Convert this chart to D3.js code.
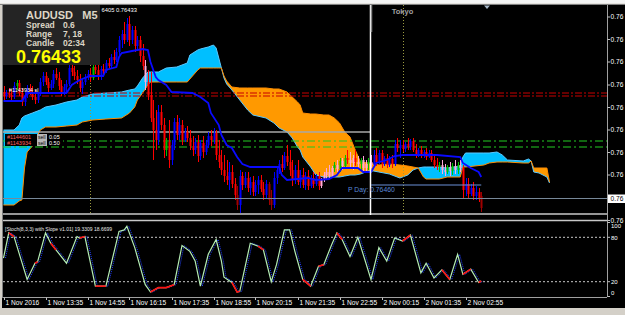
<!DOCTYPE html>
<html><head><meta charset="utf-8">
<script src="https://d3js.org/d3.v7.min.js"></script>
<style>html,body{margin:0;padding:0;background:#d4d0c8;overflow:hidden}svg{display:block;font-family:"Liberation Sans",Arial,sans-serif}</style>
</head><body>
<svg id="chart" width="625" height="315"></svg>
<script>
// ---------- DATA (prices in points above 0.76000) ----------
const symbol = "AUDUSD", timeframe = "M5";
const infoLabels = ["Spread", "Range", "Candle"];
const infoValues = ["0.6", "7, 18", "02:34"];
const bidPts = 433;            // 0.76433
const pDayPts = 460;           // 0.76460
const titleText = "6405 0.76433";

const opens = [646,638,644,640,636,658,664,644,626,640,654,646,636,630,642,666,678,666,654,662,682,674,658,646,656,662,694,686,678,670,654,666,676,682,674,696,690,678,692,688,704,698,716,710,726,750,762,750,782,750,770,738,750,718,698,666,640,594,570,550,606,580,530,546,510,540,586,560,580,550,566,554,538,530,546,518,544,526,540,558,550,564,520,506,490,478,470,486,462,440,420,478,460,474,454,466,446,460,470,452,440,462,430,420,474,490,502,494,518,506,490,470,490,466,480,460,478,458,474,462,478,458,470,480,486,478,494,500,492,508,498,514,510,504,514,506,502,510,494,502,506,500,520,506,524,502,514,500,512,502,542,534,540,532,542,536,548,530,522,530,518,526,516,524,510,500,496,500,490,486,496,488,498,490,500,494,450,462,442,454,438,446,438];
const highs = [658,650,654,650,666,670,670,654,646,660,662,658,650,646,674,686,686,674,670,690,694,686,670,662,670,702,702,698,690,682,674,682,690,694,702,706,700,698,702,710,714,722,730,734,758,770,786,794,798,778,778,758,758,742,710,690,686,630,610,620,620,594,554,590,550,594,600,594,590,574,578,570,558,554,560,550,558,550,566,570,574,570,550,530,520,510,506,500,474,458,490,486,486,486,476,478,470,478,480,466,470,466,450,486,498,510,520,526,540,530,510,500,510,490,494,486,490,480,486,482,486,474,486,494,500,498,506,510,514,514,520,530,526,520,530,518,514,518,510,514,520,530,534,530,530,518,522,518,520,550,554,550,550,546,554,552,554,542,534,538,530,534,530,530,520,514,506,510,502,500,506,504,510,506,510,500,474,474,462,466,458,454,446];
const lows = [630,632,634,630,632,650,638,618,618,634,640,630,622,624,638,658,660,646,650,654,670,650,638,640,646,658,678,670,662,646,642,660,670,666,670,682,670,670,682,684,694,694,702,706,718,734,742,746,738,742,726,730,706,690,650,630,586,510,530,540,570,514,518,494,500,530,550,550,540,546,546,530,518,522,506,510,514,520,534,538,542,510,494,480,466,460,450,454,430,410,404,450,454,446,440,438,438,442,446,430,434,420,410,414,462,482,486,490,498,478,458,462,460,454,454,450,450,454,454,458,450,454,466,470,474,474,486,486,486,490,494,502,494,490,498,494,490,486,486,490,494,496,498,502,494,498,494,496,494,498,526,514,526,526,530,530,526,514,516,514,514,510,514,506,494,490,486,482,478,482,478,480,482,482,486,434,438,434,438,430,430,426,406];
const closes = [638,644,640,636,658,664,644,626,640,654,646,636,630,642,666,678,666,654,662,682,674,658,646,656,662,694,686,678,670,654,666,676,682,674,696,690,678,692,688,704,698,716,710,726,750,762,750,782,750,770,738,750,718,698,666,640,594,570,550,606,580,530,546,510,540,586,560,580,550,566,554,538,530,546,518,544,526,540,558,550,564,520,506,490,478,470,486,462,440,420,478,460,474,454,466,446,460,470,452,440,462,430,420,474,490,502,494,518,506,490,470,490,466,480,460,478,458,474,462,478,458,470,480,486,478,494,500,492,508,498,514,510,504,514,506,502,510,494,502,506,500,520,506,524,502,514,500,512,502,542,534,540,532,542,536,548,530,522,530,518,526,516,524,510,500,496,500,490,486,496,488,498,490,500,494,450,462,442,454,438,446,434,414];
// candle colour class per bar: b=bull blue, r=bear red, d=dark red, p=pink, g=green
const candleClass = ("rbrrbgrrbb"+"rrrbbbrrbb"+"rrrbbbrrrr"+"bbbrgrrbrb"+"rbrbbbrbrb"+"rbrrprrrrb"+"rrgrbbrbrb"+"rrrbrbrbbr"+"brrrrrbrrd"+"brbrbrbbrr"+"bddbbbrbrr"+"rbrbrbrbrb"+"rpppppgpgp"+"grpprpgppg"+"pbrbrbrbrb"+"rbrbrbrrbr"+"brbrrrgppg"+"pgpgprbrbr"+"brd").split("");

const kijunBars = [0,7,9,24,26,29,33,38,39,43,44,45,49,53,55,56,58,59,62,64,72,75,78,79,82,83,85,87,89,91,94,105,106,108,112,116,119,124,127,129,135,137,140,142,146,149,152,165,174,175,178,181,182];
const kijunPts  = [628,628,644,644,660,670,678,678,690,696,716,724,728,732,730,706,676,670,660,646,644,636,624,604,580,560,540,534,516,502,496,496,480,470,472,474,470,472,480,494,494,486,486,504,510,518,520,520,516,504,494,486,476];

const cloudBars = [0,4,6,7,8,9,11,14,16,20,24,28,30,34,39,45,48,50,51,53,55,56,59,62,66,70,71,74,75,78,80,81,82,83,84,85,87,90,93,95,100,103,105,108,110,112,113,114,117,119,122,124,126,128,130,132,134,136,139,141,143,147,151,154,156,158,160,161,166,169,174,175,176,183,185,188,190,192,198,200,201,202,204,207,208];
const spanA = [570,570,580,594,598,600,604,610,616,620,626,630,636,642,644,646,650,652,658,674,686,686,686,694,696,704,720,730,732,736,740,734,714,694,674,662,650,630,610,600,594,584,574,566,554,536,530,516,496,480,476,476,476,476,478,480,480,482,488,488,486,482,474,480,490,494,496,496,496,494,498,516,524,524,524,526,520,510,508,512,508,486,484,476,464];
const spanB = [420,420,428,430,494,526,538,570,576,576,578,580,586,590,592,594,604,616,630,644,660,666,666,666,666,666,672,690,694,694,694,694,694,694,678,668,656,654,654,654,654,652,652,646,636,626,620,604,602,602,600,600,594,584,566,556,530,506,504,502,500,502,500,498,496,494,476,472,472,476,476,496,496,500,504,506,506,506,504,504,508,494,494,494,466];

const stopLinePts = [644, 638];
const orderLinePts = [548, 536];
const orderTickets = ["#1144601", "#1143934"];
const orderTypes = ["sell", "sell"];
const orderLots = ["0.05", "0.50"];
const greyLinePts = 566, lowLinePts = 402;
const sessionBars = [33, 152];
const sessionName = "Tokyo";
const daySeparatorBar = 140;

const priceTicks = [796,751,706,660,615,570,525,480,434,389];
const timeLabelBars = [0,16,32,48,64,80,96,112,128,144,160,176];
const timeLabels = ["1 Nov 2016","1 Nov 13:35","1 Nov 14:55","1 Nov 16:15","1 Nov 17:35","1 Nov 18:55","1 Nov 20:15","1 Nov 21:35","1 Nov 22:55","2 Nov 00:15","2 Nov 01:35","2 Nov 02:55"];

const stochTitle = "[Stoch(8,3,3) with Slope v1.01] 19.3309 18.6699";
const stochLevels = [100, 80, 20, 0];
const stochBars = [0,2,4,9,12,13,16,18,20,24,28,29,31,35,39,44,46,47,50,54,56,59,62,65,68,71,73,75,78,81,83,84,87,89,90,94,97,99,102,104,107,109,111,114,117,120,122,125,127,129,132,135,140,143,146,149,152,155,159,161,164,167,170,173,175,178,181,182];
const stochK = [52,86,81,23,45,47,86,72,63,45,81,79,81,14,14,88,90,95,66,16,6,12,12,16,69,61,48,14,57,77,48,26,19,6,7,72,68,63,20,43,90,90,61,23,14,41,43,70,86,77,54,80,23,66,48,79,75,83,32,45,25,36,23,57,30,37,19,21];
const stochRedSpans = [[2,4],[12,13],[18,20],[29,31],[35,39],[56,65],[87,90],[97,99],[114,117],[120,122],[127,129],[152,155],[167,170],[175,178],[181,182]];

// ---------- RENDER ----------
const P = v => 0.76 + v / 1e5;
const axisFmt = v => P(v).toFixed(5).slice(0, 4);   // the axis is cut at the window edge: only "0.76" shows
const svg = d3.select("#chart");
const xB = d3.scaleLinear().domain([0, 176]).range([3.5, 465.5]);
const yM = d3.scaleLinear().domain([0.76, 0.77]).range([415, -85]);
const yS = d3.scaleLinear().domain([0, 100]).range([296.5, 222.5]);

const defs = svg.append("defs");
defs.append("clipPath").attr("id", "cm").append("rect").attr("x", 3).attr("y", 5).attr("width", 604).attr("height", 210);
defs.append("clipPath").attr("id", "cs").append("rect").attr("x", 3).attr("y", 221.5).attr("width", 604).attr("height", 75.5);

svg.append("rect").attr("width", 625).attr("height", 315).attr("fill", "#d4d0c8");
svg.append("rect").attr("width", 625).attr("height", 3.5).attr("fill", "#f4f4f4");
svg.append("rect").attr("x", 2).attr("y", 4).attr("width", 623).attr("height", 304).attr("fill", "#000");
svg.append("line").attr("x1", 0).attr("x2", 625).attr("y1", 4.5).attr("y2", 4.5).attr("stroke", "#808080");

const g = svg.append("g").attr("clip-path", "url(#cm)");

// cloud
const cloud = cloudBars.map((b, i) => ({ b, a: spanA[i], s: spanB[i] }));
g.append("path").datum(cloud).attr("fill", "#00bfff")
  .attr("d", d3.area().x(d => xB(d.b)).y0(d => yM(P(d.s))).y1(d => yM(P(Math.max(d.a, d.s)))));
g.append("path").datum(cloud).attr("fill", "#ff9900")
  .attr("d", d3.area().x(d => xB(d.b)).y0(d => yM(P(d.a))).y1(d => yM(P(Math.max(d.a, d.s)))));
g.append("path").datum(cloud).attr("fill", "none").attr("stroke", "#5ac8ff").attr("stroke-width", 1)
  .attr("d", d3.line().x(d => xB(d.b)).y(d => yM(P(d.a))));
g.append("path").datum(cloud).attr("fill", "none").attr("stroke", "#ff8c00").attr("stroke-width", 1)
  .attr("d", d3.line().x(d => xB(d.b)).y(d => yM(P(d.s))));

// session dotted verticals
g.selectAll(".sess").data(sessionBars).join("line")
  .attr("x1", d => Math.round(xB(d)) + 0.5).attr("x2", d => Math.round(xB(d)) + 0.5)
  .attr("y1", 5).attr("y2", 215).attr("stroke", "#9a9a40").attr("stroke-dasharray", "1,2");

// stop lines (red dash-dot)
g.selectAll(".stop").data(stopLinePts).join("line")
  .attr("x1", 3).attr("x2", 607).attr("y1", d => yM(P(d))).attr("y2", d => yM(P(d)))
  .attr("stroke", "#c80000").attr("stroke-width", 1.2).attr("stroke-dasharray", "7,2,2,2");
// order lines (green dash-dot)
g.selectAll(".ord").data(orderLinePts).join("line")
  .attr("x1", 3).attr("x2", 607).attr("y1", d => yM(P(d))).attr("y2", d => yM(P(d)))
  .attr("stroke", "#22cc22").attr("stroke-width", 1.2).attr("stroke-dasharray", "8,3,2,3");
// grey & low lines
g.append("line").attr("x1", 3).attr("x2", xB(daySeparatorBar)).attr("y1", yM(P(greyLinePts))).attr("y2", yM(P(greyLinePts)))
  .attr("stroke", "#a8a8a8").attr("stroke-width", 1.5);
g.append("line").attr("x1", 3).attr("x2", 607).attr("y1", yM(P(lowLinePts))).attr("y2", yM(P(lowLinePts)))
  .attr("stroke", "#c8c8c8").attr("stroke-width", 1.5);

// candles
const colMap = { b: "#0000ff", r: "#ff0000", d: "#a00000", p: "#ffa8d8", g: "#00c000" };
const bars = opens.map((o, i) => ({ i, o, h: highs[i], l: lows[i], c: closes[i], k: candleClass[i] }));
const cg = g.append("g");
cg.selectAll(".wick").data(bars).join("line")
  .attr("x1", d => Math.round(xB(d.i)) + 0.5).attr("x2", d => Math.round(xB(d.i)) + 0.5)
  .attr("y1", d => yM(P(d.h))).attr("y2", d => yM(P(d.l)))
  .attr("stroke", d => colMap[d.k]).attr("stroke-width", 1);
cg.selectAll(".body").data(bars).join("rect")
  .attr("x", d => Math.round(xB(d.i)) - 0.5).attr("width", 2)
  .attr("y", d => Math.min(yM(P(d.o)), yM(P(d.c))))
  .attr("height", d => Math.max(1, Math.abs(yM(P(d.o)) - yM(P(d.c)))))
  .attr("fill", d => colMap[d.k]);

// kijun
g.append("path").datum(kijunBars.map((b, i) => [b, kijunPts[i]])).attr("fill", "none")
  .attr("stroke", "#0a0aff").attr("stroke-width", 1.8)
  .attr("d", d3.line().x(d => xB(d[0])).y(d => yM(P(d[1]))));

// day separator
g.append("line").attr("x1", xB(daySeparatorBar) - 0.5).attr("x2", xB(daySeparatorBar) - 0.5).attr("y1", 5).attr("y2", 215)
  .attr("stroke", "#ffffff").attr("stroke-width", 1.5);
g.append("line").attr("x1", xB(daySeparatorBar) + 0.5).attr("x2", xB(daySeparatorBar) + 0.5).attr("y1", 5).attr("y2", 32)
  .attr("stroke", "#888").attr("stroke-width", 1.5);

// bid line
g.append("line").attr("x1", 3).attr("x2", 607).attr("y1", yM(P(bidPts))).attr("y2", yM(P(bidPts)))
  .attr("stroke", "#778899").attr("stroke-width", 1);
// P Day
const pdY = yM(P(pDayPts));
g.append("line").attr("x1", xB(daySeparatorBar)).attr("x2", xB(182)).attr("y1", pdY).attr("y2", pdY)
  .attr("stroke", "#6a90d8").attr("stroke-width", 1);
g.append("text").attr("x", 348).attr("y", pdY + 7).attr("font-size", 6.8).attr("fill", "#5a88d8")
  .text("P Day: " + P(pDayPts).toFixed(5));

// session label
g.append("text").attr("x", xB(sessionBars[1])).attr("y", 14).attr("text-anchor", "middle")
  .attr("font-size", 7.5).attr("font-weight", "bold").attr("fill", "#a0a0a0").text(sessionName);
// small triangle marker
g.append("path").attr("d", "M484,5.5 L490,5.5 L487,9 Z").attr("fill", "#a8b8c8");

// order labels
orderLinePts.forEach((p, i) => {
  const yy = yM(P(p)) - 2;
  g.append("rect").attr("x", 5).attr("y", yy - 5).attr("width", 58).attr("height", 6).attr("fill", "#000");
  g.append("text").attr("x", 7).attr("y", yy).attr("font-size", 5.5).attr("fill", "#ff6060").text(orderTickets[i]);
  g.append("rect").attr("x", 37).attr("y", yy - 5).attr("width", 10).attr("height", 6).attr("fill", "#b8b8b8");
  g.append("text").attr("x", 38).attr("y", yy).attr("font-size", 5).attr("fill", "#000").text(orderTypes[i]);
  g.append("text").attr("x", 49).attr("y", yy).attr("font-size", 5.5).attr("fill", "#fff").text(orderLots[i]);
});
g.append("text").attr("x", 9).attr("y", yM(P(stopLinePts[0])) - 1).attr("font-size", 5.5).attr("fill", "#fff")
  .text(orderTickets[1] + " sl");

// info box
svg.append("rect").attr("x", 3).attr("y", 5).attr("width", 97).attr("height", 60).attr("fill", "#242424");
svg.append("text").attr("x", 26).attr("y", 19).attr("font-size", 11).attr("font-weight", "bold").attr("fill", "#ddd6c6")
  .attr("xml:space", "preserve").text(symbol + "   " + timeframe);
infoLabels.forEach((t, i) => {
  svg.append("text").attr("x", 26).attr("y", 27.5 + i * 9).attr("font-size", 8.5).attr("font-weight", "bold").attr("fill", "#ddd6c6").text(t);
  svg.append("text").attr("x", 63).attr("y", 27.5 + i * 9).attr("font-size", 8.5).attr("font-weight", "bold").attr("fill", "#ddd6c6").text(infoValues[i]);
});
svg.append("text").attr("x", 16).attr("y", 63).attr("font-size", 18).attr("font-weight", "bold").attr("fill", "#ffff00")
  .text(P(bidPts).toFixed(5));
svg.append("text").attr("x", 101.5).attr("y", 12).attr("font-size", 5.8).attr("fill", "#fff").text(titleText);

// right price axis
svg.append("line").attr("x1", 607.5).attr("x2", 607.5).attr("y1", 5).attr("y2", 297).attr("stroke", "#a0a0a0");
const ax = svg.append("g");
priceTicks.forEach(t => {
  const yy = yM(P(t));
  ax.append("line").attr("x1", 607.5).attr("x2", 610).attr("y1", yy).attr("y2", yy).attr("stroke", "#c0c0c0");
  ax.append("text").attr("x", 610.5).attr("y", yy + 2.3).attr("font-size", 6.6).attr("fill", "#fff").text(axisFmt(t));
});
const bY = yM(P(bidPts));
svg.append("rect").attr("x", 608).attr("y", bY - 4).attr("width", 17).attr("height", 8.5).attr("fill", "#fff");
svg.append("text").attr("x", 610.5).attr("y", bY + 2.3).attr("font-size", 6.6).attr("fill", "#000").text(axisFmt(bidPts));

// separators
svg.append("line").attr("x1", 3).attr("x2", 607).attr("y1", 220.5).attr("y2", 220.5).attr("stroke", "#c8c8c8").attr("stroke-width", 1.5);
svg.append("line").attr("x1", 3).attr("x2", 607).attr("y1", 297.5).attr("y2", 297.5).attr("stroke", "#a0a0a0");
svg.append("line").attr("x1", 2.5).attr("x2", 2.5).attr("y1", 5).attr("y2", 298).attr("stroke", "#808080");

// stochastic window
const sg = svg.append("g").attr("clip-path", "url(#cs)");
[80, 20].forEach(v => sg.append("line").attr("x1", 3).attr("x2", 607).attr("y1", yS(v)).attr("y2", yS(v))
  .attr("stroke", "#c8c8c8").attr("stroke-dasharray", "2,2"));
const sData = stochBars.map((b, i) => [b, stochK[i]]);
const sLine = d3.line().x(d => xB(d[0])).y(d => yS(d[1]));
sg.append("path").datum(sData).attr("fill", "none").attr("stroke", "#2040ff").attr("stroke-width", 1)
  .attr("stroke-dasharray", "1,1").attr("transform", "translate(2,0)").attr("d", sLine);
sg.append("path").datum(sData).attr("fill", "none").attr("stroke", "#b4ecb4").attr("stroke-width", 1.2).attr("d", sLine);
stochRedSpans.forEach(([a, b]) => {
  sg.append("path").datum(sData.filter(d => d[0] >= a && d[0] <= b)).attr("fill", "none")
    .attr("stroke", "#ff1010").attr("stroke-width", 1.6).attr("d", sLine);
});
svg.append("text").attr("x", 5).attr("y", 230.5).attr("font-size", 5).attr("fill", "#e8e8e8").text(stochTitle);
stochLevels.forEach(v => {
  const yy = Math.max(226, Math.min(292.5, yS(v)));
  svg.append("text").attr("x", 611).attr("y", yy + 2.2).attr("font-size", 6).attr("fill", "#fff").text(v);
  svg.append("line").attr("x1", 607.5).attr("x2", 610).attr("y1", yS(v)).attr("y2", yS(v)).attr("stroke", "#c0c0c0");
});

// time axis
timeLabelBars.forEach((b, i) => {
  const xx = Math.round(xB(b)) + 0.5;
  svg.append("line").attr("x1", xx).attr("x2", xx).attr("y1", 297.5).attr("y2", 300).attr("stroke", "#c0c0c0");
  svg.append("text").attr("x", xx + 1).attr("y", 305).attr("font-size", 6.6).attr("fill", "#fff").text(timeLabels[i]);
});
</script></body></html>
